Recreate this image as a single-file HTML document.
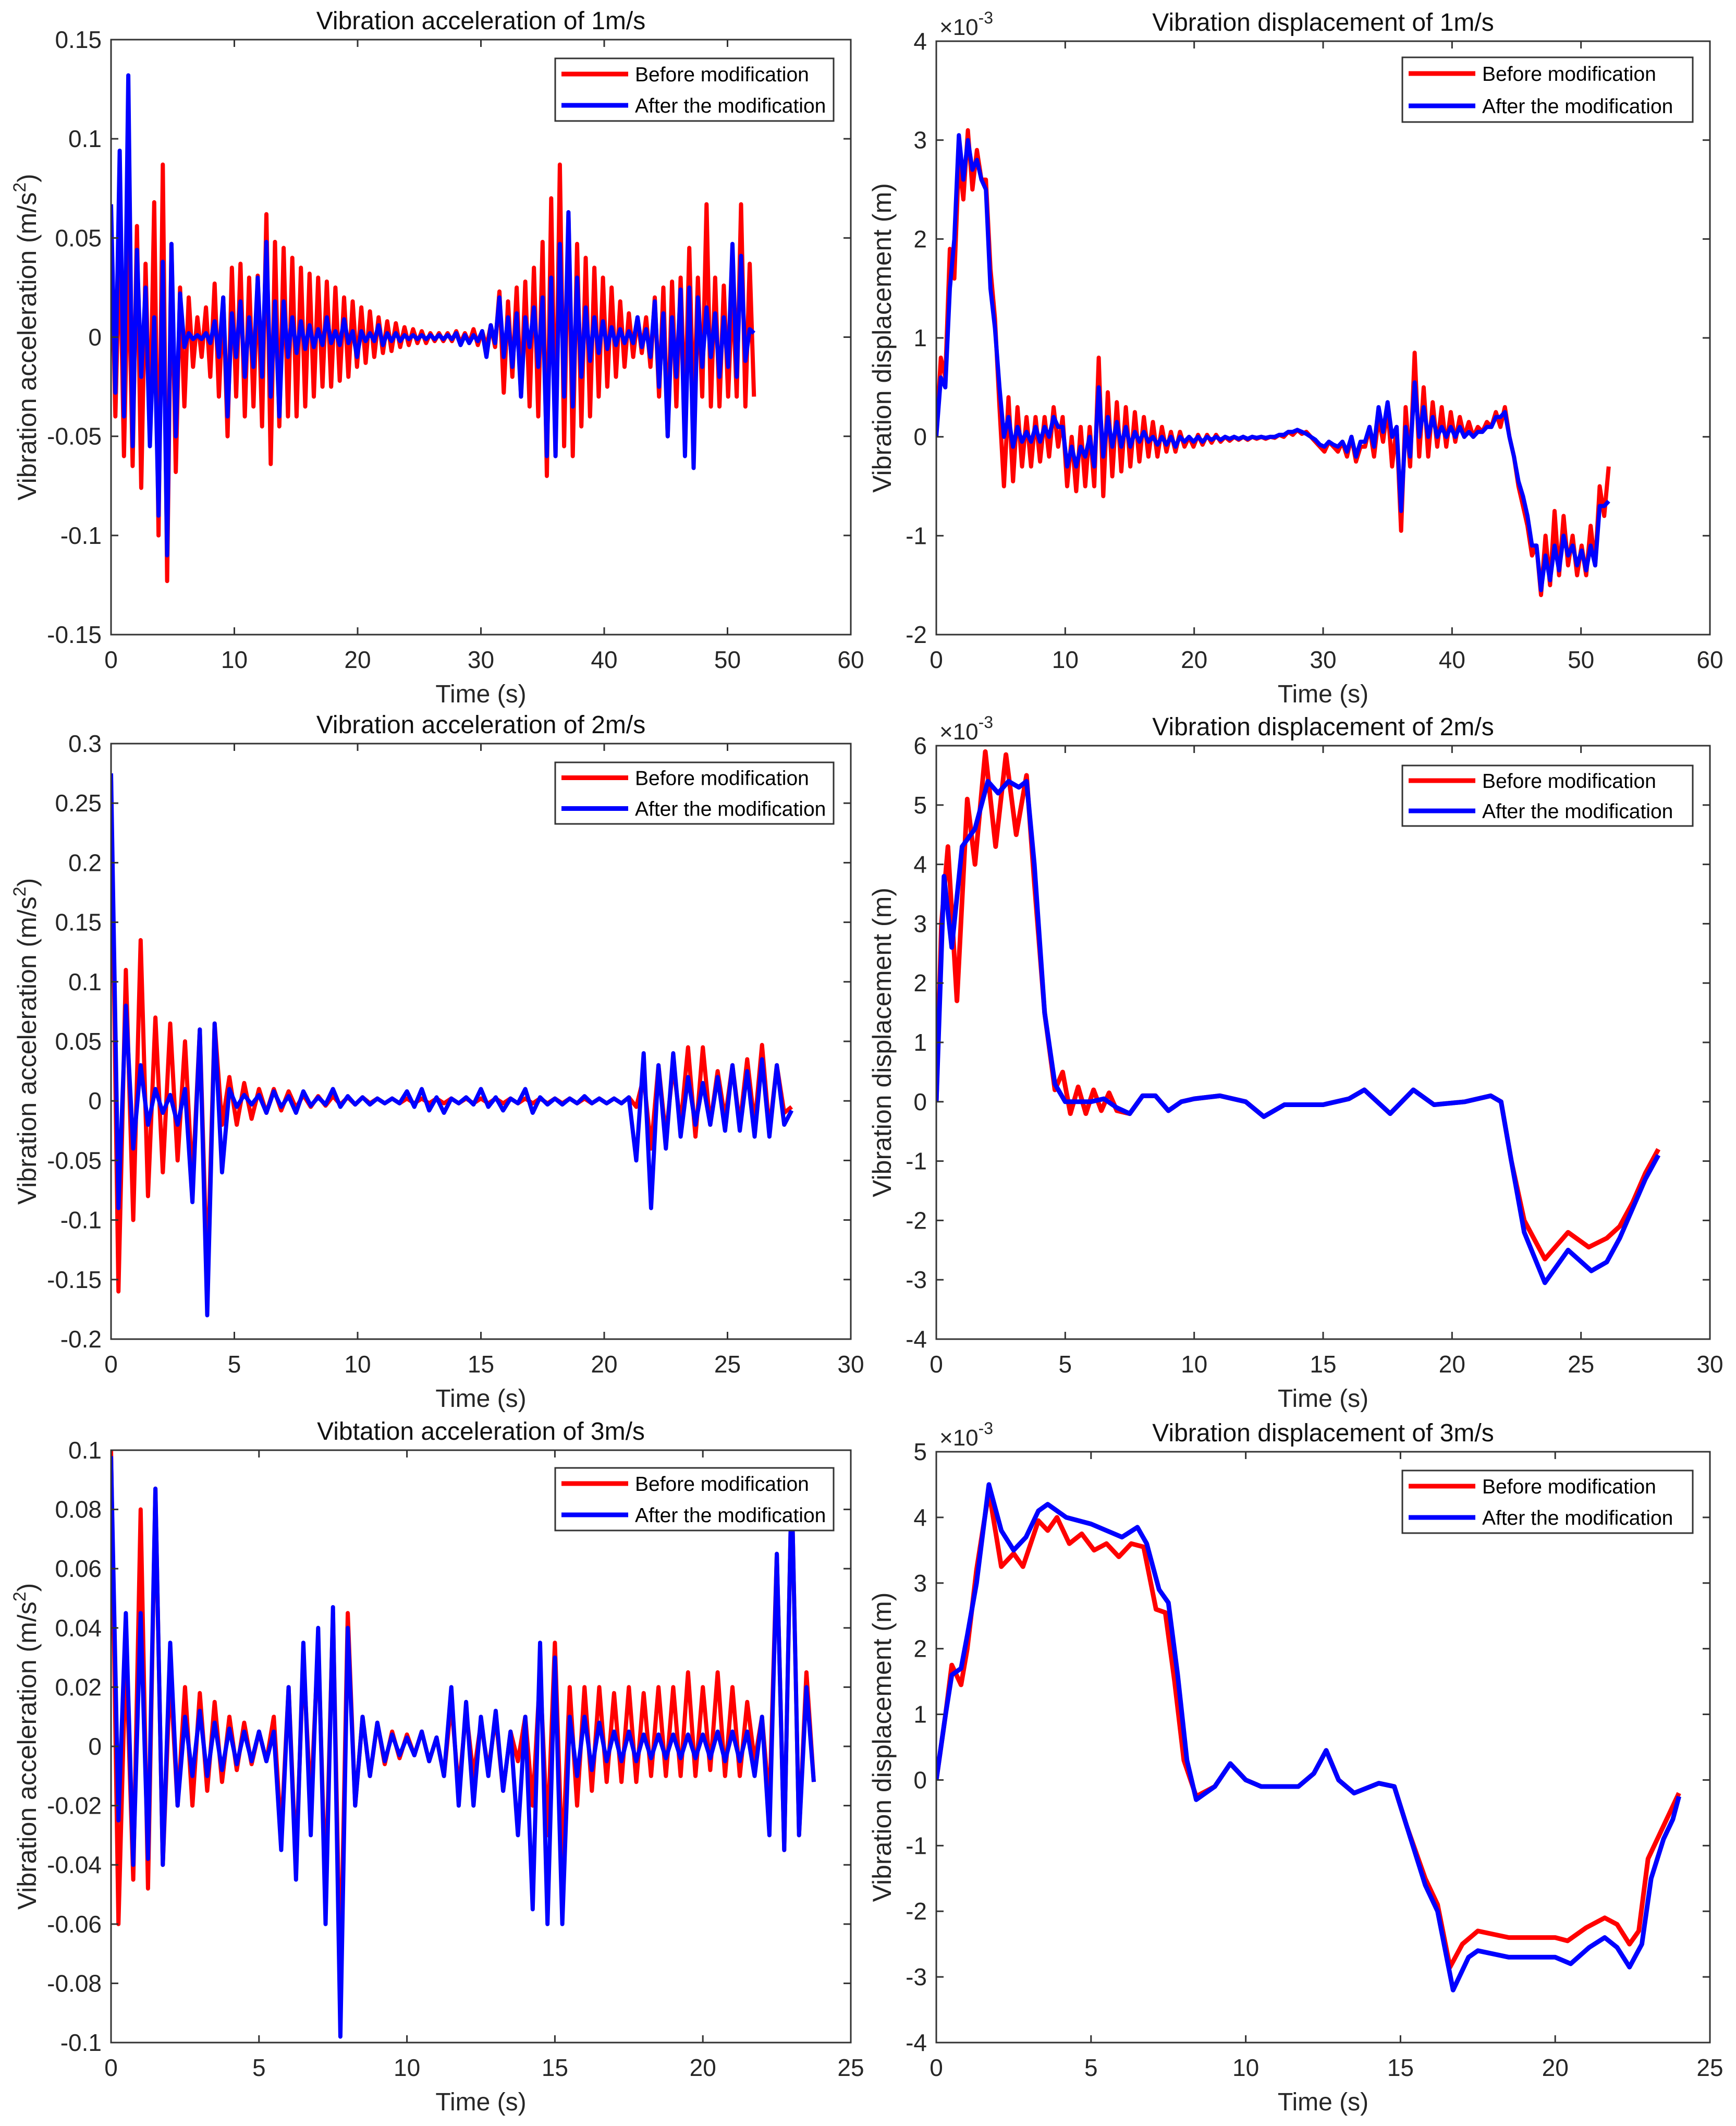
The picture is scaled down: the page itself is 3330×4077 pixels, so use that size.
<!DOCTYPE html>
<html><head><meta charset="utf-8"><style>
html,body{margin:0;padding:0;background:#fff}
svg{display:block;font-family:"Liberation Sans",Arial,sans-serif}
</style></head><body>
<svg id="fig" width="3330" height="4077" viewBox="0 0 3330 4077" xmlns="http://www.w3.org/2000/svg"></svg>
<script>
// ===== Data: acceleration 1 m/s (sampled every acc1Dt s) =====
const acc1Dt = 0.35;
const acc1Before = [0.06,-0.04,0.05,-0.06,0.045,-0.065,0.056,-0.076,0.037,-0.05,
0.068,-0.1,0.087,-0.123,0.047,-0.068,0.025,-0.035,0.02,-0.015,
0.01,-0.01,0.015,-0.02,0.027,-0.03,0.02,-0.05,0.035,-0.03,
0.037,-0.04,0.03,-0.035,0.031,-0.045,0.062,-0.064,0.048,-0.045,
0.045,-0.04,0.04,-0.04,0.035,-0.035,0.032,-0.03,0.03,-0.025,
0.028,-0.025,0.025,-0.022,0.02,-0.02,0.018,-0.015,0.015,-0.013,
0.013,-0.01,0.01,-0.008,0.008,-0.007,0.007,-0.005,0.005,-0.004,
0.004,-0.003,0.003,-0.003,0.002,-0.002,0.002,-0.002,0.002,-0.002,
0.003,-0.003,0.002,-0.003,0.004,-0.004,0.003,-0.005,0.006,-0.005,
0.023,-0.028,0.018,-0.02,0.025,-0.03,0.028,-0.035,0.035,-0.04,
0.048,-0.07,0.07,-0.06,0.087,-0.055,0.062,-0.06,0.047,-0.045,
0.04,-0.04,0.035,-0.03,0.03,-0.025,0.025,-0.02,0.018,-0.015,
0.012,-0.01,0.01,-0.008,0.01,-0.015,0.02,-0.03,0.025,-0.05,
0.028,-0.035,0.03,-0.04,0.045,-0.04,0.03,-0.03,0.067,-0.035,
0.03,-0.035,0.026,-0.03,0.025,-0.03,0.067,-0.035,0.037,-0.03];
const acc1After = [0.067,-0.028,0.094,-0.04,0.132,-0.055,0.044,-0.02,0.025,-0.055,
0.01,-0.09,0.038,-0.11,0.047,-0.05,0.022,-0.005,0.002,-0.001,
0.001,-0.001,0.002,-0.003,0.008,-0.01,0.02,-0.04,0.012,-0.01,
0.018,-0.02,0.01,-0.015,0.03,-0.02,0.048,-0.03,0.018,-0.04,
0.018,-0.01,0.01,-0.008,0.008,-0.006,0.006,-0.005,0.004,-0.004,
0.01,-0.003,0.003,-0.004,0.009,-0.003,0.003,-0.01,0.003,-0.002,
0.002,-0.002,0.006,-0.004,0.002,-0.002,0.002,-0.002,0.001,-0.001,
0.001,-0.001,0.001,-0.001,0.001,-0.001,0.001,-0.001,0.001,-0.001,
0.002,-0.004,0.001,-0.003,0.001,-0.002,0.003,-0.01,0.006,-0.003,
0.02,-0.01,0.01,-0.015,0.012,-0.03,0.01,-0.005,0.015,-0.015,
0.02,-0.06,0.03,-0.06,0.047,-0.03,0.063,-0.035,0.03,-0.02,
0.015,-0.012,0.01,-0.008,0.008,-0.006,0.005,-0.004,0.004,-0.003,
0.003,-0.003,0.01,-0.005,0.004,-0.01,0.018,-0.025,0.012,-0.05,
0.01,-0.02,0.024,-0.06,0.025,-0.066,0.02,-0.015,0.015,-0.01,
0.012,-0.02,0.01,-0.015,0.047,-0.02,0.041,-0.012,0.004,0.002];
// ===== displacement 1 m/s (x1e-3 m) =====
const disp1Dt = 0.35;
const disp1Before = [0,0.8,0.6,1.9,1.6,2.8,2.4,3.1,2.5,2.9,
2.6,2.6,1.7,1.2,0.3,-0.5,0.4,-0.45,0.3,-0.3,
0.2,-0.3,0.2,-0.25,0.2,-0.2,0.3,-0.1,0.2,-0.5,
0,-0.55,0.1,-0.5,0.1,-0.5,0.8,-0.6,0.45,-0.4,
0.35,-0.35,0.3,-0.3,0.25,-0.25,0.2,-0.2,0.15,-0.2,
0.1,-0.15,0.05,-0.15,0.05,-0.1,0,-0.1,0.02,-0.08,
0.02,-0.06,0.02,-0.05,0,-0.04,0,-0.03,0,-0.03,
0,-0.02,0,-0.02,0,-0.01,0.02,0,0.05,0.02,
0.07,0.03,0.05,0,-0.05,-0.1,-0.15,-0.05,-0.1,-0.15,
-0.05,-0.2,0,-0.25,-0.1,-0.1,0.1,-0.2,0.2,-0.05,
0.3,-0.3,0.1,-0.95,0.3,-0.3,0.85,-0.2,0.5,-0.2,
0.35,-0.1,0.3,-0.1,0.25,-0.05,0.2,0,0.15,0,
0.1,0.05,0.15,0.1,0.25,0.1,0.3,0,-0.2,-0.5,
-0.7,-0.9,-1.2,-1.1,-1.6,-1.0,-1.5,-0.75,-1.4,-0.8,
-1.3,-1.0,-1.4,-1.1,-1.4,-0.9,-1.3,-0.5,-0.8,-0.3];
const disp1After = [0,0.6,0.5,1.5,2.0,3.05,2.6,3.0,2.7,2.8,
2.6,2.5,1.5,1.1,0.5,0,0.2,-0.1,0.1,-0.05,
0.05,-0.05,0.1,-0.05,0.1,0,0.2,0.1,0.1,-0.3,
-0.1,-0.3,-0.1,-0.2,0,-0.3,0.5,-0.2,0.2,-0.1,
0.15,-0.1,0.1,-0.1,0.05,-0.05,0.05,-0.05,0,-0.08,
0,-0.08,0,-0.1,0,-0.05,0,-0.05,0,-0.05,
0,-0.03,0,-0.03,0,-0.02,0,-0.02,0,-0.02,
0,-0.01,0,-0.01,0,0,0.02,0.02,0.05,0.05,
0.07,0.05,0.03,0,-0.03,-0.08,-0.1,-0.05,-0.08,-0.1,
-0.05,-0.15,0,-0.2,-0.05,-0.05,0.1,-0.1,0.3,0.05,
0.35,0,0.1,-0.75,0.1,-0.2,0.55,0,0.3,0,
0.2,0,0.1,0,0.1,0,0.1,0,0.05,0,
0.05,0.05,0.1,0.1,0.2,0.2,0.25,0,-0.2,-0.45,
-0.6,-0.8,-1.1,-1.1,-1.55,-1.2,-1.45,-1.1,-1.35,-1.0,
-1.2,-1.1,-1.3,-1.15,-1.35,-1.1,-1.3,-0.7,-0.7,-0.65];
// ===== acceleration 2 m/s =====
const acc2Dt = 0.3;
const acc2Before = [0.27,-0.16,0.11,-0.1,0.135,-0.08,0.07,-0.06,0.065,-0.05,
0.05,-0.07,0.06,-0.15,0.065,-0.02,0.02,-0.02,0.015,-0.015,
0.01,-0.01,0.01,-0.008,0.008,-0.006,0.005,-0.005,0.004,-0.004,
0.004,-0.003,0.003,-0.003,0.003,-0.002,0.002,-0.002,0.002,-0.002,
0.002,-0.002,0.002,-0.002,0.002,-0.002,0.002,-0.002,0.002,-0.002,
0.002,-0.002,0.002,-0.002,0.002,-0.002,0.002,-0.002,0.002,-0.002,
0.002,-0.002,0.002,-0.002,0.002,-0.002,0.002,-0.002,0.002,-0.002,
0.003,-0.005,0.02,-0.04,0.03,-0.03,0.03,-0.02,0.045,-0.03,
0.045,-0.02,0.025,-0.015,0.03,-0.02,0.035,-0.02,0.047,-0.025,
0.03,-0.01,-0.005];
const acc2After = [0.275,-0.09,0.08,-0.04,0.03,-0.02,0.01,-0.01,0.005,-0.02,
0.01,-0.085,0.06,-0.18,0.065,-0.06,0.01,-0.005,0.005,-0.003,
0.005,-0.01,0.008,-0.005,0.004,-0.01,0.008,-0.004,0.003,-0.003,
0.01,-0.005,0.004,-0.003,0.003,-0.003,0.002,-0.002,0.002,-0.002,
0.008,-0.005,0.01,-0.008,0.003,-0.01,0.002,-0.002,0.003,-0.003,
0.01,-0.005,0.003,-0.008,0.002,-0.002,0.01,-0.01,0.003,-0.003,
0.002,-0.003,0.002,-0.002,0.004,-0.002,0.002,-0.002,0.002,-0.002,
0.003,-0.05,0.04,-0.09,0.03,-0.04,0.04,-0.03,0.02,-0.02,
0.015,-0.02,0.02,-0.025,0.03,-0.025,0.025,-0.03,0.035,-0.03,
0.03,-0.02,-0.008];
// ===== displacement 2 m/s (x1e-3 m) =====
const disp2BeforeT = [0,0.2,0.45,0.8,1.2,1.5,1.9,2.3,2.7,3.1,3.5,3.8,4.2,4.6,4.9,5.2,5.5,5.8,6.1,6.4,6.7,7.0,7.5,8,8.5,9,9.5,10,11,12,12.7,13.5,14,15,16,16.6,17.6,18.5,19.3,20.5,21.5,21.9,22.3,22.8,23.6,24.5,25.3,26,26.5,27,27.5,28];
const disp2BeforeV = [0,3.0,4.3,1.7,5.1,4.0,5.9,4.3,5.85,4.5,5.5,3.7,1.5,0.2,0.5,-0.2,0.25,-0.2,0.2,-0.15,0.15,-0.15,-0.2,0.1,0.1,-0.15,0,0.05,0.1,0,-0.25,-0.05,-0.05,-0.05,0.05,0.2,-0.2,0.2,-0.05,0,0.1,0,-1.0,-2.0,-2.65,-2.2,-2.45,-2.3,-2.1,-1.7,-1.2,-0.8];
const disp2AfterT = [0,0.3,0.6,1.0,1.5,2.0,2.4,2.8,3.2,3.5,3.8,4.2,4.6,5,6,6.5,7,7.5,8,8.5,9,9.5,10,11,12,12.7,13.5,15,16,16.6,17.6,18.5,19.3,20.5,21.5,21.9,22.3,22.8,23.6,24.5,25.4,26,26.5,27,27.5,28];
const disp2AfterV = [0,3.8,2.6,4.3,4.6,5.4,5.2,5.4,5.3,5.4,4,1.5,0.3,0,0,0.05,-0.1,-0.2,0.1,0.1,-0.15,0,0.05,0.1,0,-0.25,-0.05,-0.05,0.05,0.2,-0.2,0.2,-0.05,0,0.1,0,-1.0,-2.2,-3.05,-2.5,-2.85,-2.7,-2.3,-1.8,-1.3,-0.9];
// ===== acceleration 3 m/s =====
const acc3Dt = 0.25;
const acc3Before = [0.1,-0.06,0.033,-0.045,0.08,-0.048,0.087,-0.04,
0.025,-0.02,0.02,-0.02,0.018,-0.015,0.015,-0.012,
0.01,-0.008,0.008,-0.006,0.005,-0.005,0.01,-0.03,
0.02,-0.04,0.03,-0.02,0.035,-0.05,0.045,-0.08,
0.045,-0.02,0.01,-0.01,0.008,-0.006,0.005,-0.004,
0.004,-0.003,0.005,-0.005,0.003,-0.01,0.015,-0.015,
0.012,-0.01,0.008,-0.008,0.01,-0.015,0.005,-0.005,
0.01,-0.02,0.025,-0.03,0.035,-0.04,0.02,-0.02,
0.02,-0.015,0.02,-0.012,0.018,-0.012,0.02,-0.012,
0.018,-0.01,0.02,-0.01,0.02,-0.01,0.025,-0.01,
0.02,-0.008,0.025,-0.01,0.02,-0.01,0.015,-0.005,
0.01,-0.02,0.065,-0.035,0.09,-0.03,0.025,-0.012];
const acc3After = [0.098,-0.025,0.045,-0.04,0.045,-0.038,0.087,-0.04,
0.035,-0.02,0.01,-0.01,0.012,-0.01,0.008,-0.008,
0.006,-0.006,0.005,-0.005,0.005,-0.005,0.005,-0.035,
0.02,-0.045,0.035,-0.03,0.04,-0.06,0.047,-0.098,
0.04,-0.02,0.01,-0.01,0.008,-0.005,0.004,-0.003,
0.003,-0.003,0.005,-0.005,0.003,-0.01,0.02,-0.02,
0.015,-0.02,0.01,-0.01,0.012,-0.015,0.005,-0.03,
0.01,-0.055,0.035,-0.06,0.03,-0.06,0.01,-0.01,
0.01,-0.008,0.008,-0.005,0.005,-0.005,0.005,-0.005,
0.004,-0.004,0.004,-0.004,0.004,-0.004,0.004,-0.004,
0.004,-0.004,0.005,-0.005,0.005,-0.005,0.005,-0.01,
0.01,-0.03,0.065,-0.035,0.09,-0.03,0.02,-0.012];
// ===== displacement 3 m/s (x1e-3 m) =====
const disp3BeforeT = [0,0.3,0.5,0.8,1.0,1.3,1.7,2.1,2.5,2.8,3.3,3.6,3.9,4.3,4.7,5.1,5.5,5.9,6.3,6.7,7.1,7.4,7.7,8.0,8.4,9,9.5,10,10.5,11.7,12.2,12.6,13.0,13.5,14.3,14.8,15.2,15.8,16.2,16.6,17.0,17.5,18.5,20,20.4,21.0,21.6,22.0,22.4,22.7,23.0,23.4,23.7,24.0];
const disp3BeforeV = [0,1.0,1.75,1.45,2.0,3.2,4.4,3.25,3.45,3.25,3.95,3.8,4.0,3.6,3.75,3.5,3.6,3.4,3.6,3.55,2.6,2.55,1.5,0.3,-0.25,-0.1,0.25,0,-0.1,-0.1,0.1,0.45,0,-0.2,-0.05,-0.1,-0.7,-1.5,-1.9,-2.85,-2.5,-2.3,-2.4,-2.4,-2.45,-2.25,-2.1,-2.2,-2.5,-2.3,-1.2,-0.8,-0.5,-0.2];
const disp3AfterT = [0,0.3,0.5,0.8,1.0,1.3,1.7,2.1,2.5,2.9,3.3,3.6,4.2,5,5.5,6.0,6.5,6.8,7.2,7.5,7.8,8.1,8.4,9,9.5,10,10.5,11.7,12.2,12.6,13.0,13.5,14.3,14.8,15.2,15.8,16.2,16.7,17.2,17.5,18.5,20,20.5,21.1,21.6,22.0,22.4,22.8,23.1,23.5,23.8,24.0];
const disp3AfterV = [0,1.0,1.6,1.7,2.2,3.0,4.5,3.8,3.5,3.7,4.1,4.2,4.0,3.9,3.8,3.7,3.85,3.6,2.9,2.7,1.6,0.3,-0.3,-0.1,0.25,0,-0.1,-0.1,0.1,0.45,0,-0.2,-0.05,-0.1,-0.7,-1.6,-2.0,-3.2,-2.7,-2.6,-2.7,-2.7,-2.8,-2.55,-2.4,-2.55,-2.85,-2.5,-1.5,-0.9,-0.6,-0.25];
// ===== tick labels =====
const acc1YTicks = [0.15,0.1,0.05,0,-0.05,-0.1,-0.15];
const acc2YTicks = [0.3,0.25,0.2,0.15,0.1,0.05,0,-0.05,-0.1,-0.15,-0.2];
const acc3YTicks = [0.1,0.08,0.06,0.04,0.02,0,-0.02,-0.04,-0.06,-0.08,-0.1];
const disp1YTicks = [4,3,2,1,0,-1,-2];
const disp2YTicks = [6,5,4,3,2,1,0,-1,-2,-3,-4];
const disp3YTicks = [5,4,3,2,1,0,-1,-2,-3,-4];
const xTicks60 = [0,10,20,30,40,50,60];
const xTicks30 = [0,5,10,15,20,25,30];
const xTicks25 = [0,5,10,15,20,25];

const NS = 'http://www.w3.org/2000/svg';
const svg = document.getElementById('fig');
function mk(tag, attrs, parent){
  const e = document.createElementNS(NS, tag);
  for (const k in attrs) e.setAttribute(k, attrs[k]);
  (parent||svg).appendChild(e);
  return e;
}
function seq(dt, vals){ return vals.map((v,i)=>[i*dt, v]); }
function pairs(ts, vs){ return ts.map((t,i)=>[t, vs[i]]); }

const panels = [
 {id:'acc1', x0:213,x1:1632,y0:76,y1:1217, xmax:60, ymin:-0.15,ymax:0.15, yt:acc1YTicks, xt:xTicks60,
  title:'Vibration acceleration of 1m/s', ylab:'acc', ylx:52, red:seq(acc1Dt,acc1Before), blue:seq(acc1Dt,acc1After), lw:8, leg:[1065,112,1599,232]},
 {id:'disp1', x0:1796,x1:3280,y0:79,y1:1217, xmax:60, ymin:-2,ymax:4, yt:disp1YTicks, xt:xTicks60,
  title:'Vibration displacement of 1m/s', ylab:'Vibration displacement (m)', ylx:1692, exp:true, red:seq(disp1Dt,disp1Before), blue:seq(disp1Dt,disp1After), lw:8, leg:[2690,110,3247,234]},
 {id:'acc2', x0:213,x1:1632,y0:1426,y1:2568, xmax:30, ymin:-0.2,ymax:0.3, yt:acc2YTicks, xt:xTicks30,
  title:'Vibration acceleration of 2m/s', ylab:'acc', ylx:52, red:seq(acc2Dt,acc2Before), blue:seq(acc2Dt,acc2After), lw:8, leg:[1065,1462,1599,1580]},
 {id:'disp2', x0:1796,x1:3280,y0:1430,y1:2568, xmax:30, ymin:-4,ymax:6, yt:disp2YTicks, xt:xTicks30,
  title:'Vibration displacement of 2m/s', ylab:'Vibration displacement  (m)', ylx:1692, exp:true, red:pairs(disp2BeforeT,disp2BeforeV), blue:pairs(disp2AfterT,disp2AfterV), lw:9, leg:[2690,1468,3247,1584]},
 {id:'acc3', x0:213,x1:1632,y0:2781,y1:3917, xmax:25, ymin:-0.1,ymax:0.1, yt:acc3YTicks, xt:xTicks25,
  title:'Vibtation acceleration of 3m/s', ylab:'acc3', ylx:52, red:seq(acc3Dt,acc3Before), blue:seq(acc3Dt,acc3After), lw:8, leg:[1065,2815,1599,2935]},
 {id:'disp3', x0:1796,x1:3280,y0:2784,y1:3917, xmax:25, ymin:-4,ymax:5, yt:disp3YTicks, xt:xTicks25,
  title:'Vibration displacement of 3m/s', ylab:'Vibration displacement (m)', ylx:1692, exp:true, red:pairs(disp3BeforeT,disp3BeforeV), blue:pairs(disp3AfterT,disp3AfterV), lw:9, leg:[2690,2820,3247,2940]},
];

panels.forEach(p=>{
  const g = mk('g',{});
  
  
  const sx = v => p.x0 + (v/p.xmax)*(p.x1-p.x0);
  const sy = v => p.y1 - (v-p.ymin)/(p.ymax-p.ymin)*(p.y1-p.y0);
  const cp = mk('clipPath',{id:'clip-'+p.id}, g);
  mk('rect',{x:p.x0,y:p.y0,width:p.x1-p.x0,height:p.y1-p.y0}, cp);
  [['red','#ff0000','before-modification-line'],['blue','#0000ff','after-modification-line']].forEach(s=>{
    const d = p[s[0]].map((pt,i)=>(i?'L':'M')+sx(pt[0]).toFixed(1)+','+sy(pt[1]).toFixed(1)).join('');
    const path = mk('path',{d:d,fill:'none',stroke:s[1],'stroke-width':p.lw,'stroke-linejoin':'round','clip-path':'url(#clip-'+p.id+')'}, g);
    
    
  });
  const box = mk('rect',{x:p.x0,y:p.y0,width:p.x1-p.x0,height:p.y1-p.y0,fill:'none',stroke:'#333','stroke-width':3}, g);
  
  
  p.yt.forEach(v=>{
    const y = sy(v);
    mk('line',{x1:p.x0,y1:y,x2:p.x0+14,y2:y,stroke:'#333','stroke-width':3}, g);
    mk('line',{x1:p.x1,y1:y,x2:p.x1-14,y2:y,stroke:'#333','stroke-width':3}, g);
    const t = mk('text',{x:p.x0-18,y:y+16,'text-anchor':'end','font-size':46,fill:'#262626'}, g);
    t.textContent = String(v);
    
    
  });
  p.xt.forEach(v=>{
    const x = sx(v);
    mk('line',{x1:x,y1:p.y1,x2:x,y2:p.y1-14,stroke:'#333','stroke-width':3}, g);
    mk('line',{x1:x,y1:p.y0,x2:x,y2:p.y0+14,stroke:'#333','stroke-width':3}, g);
    const t = mk('text',{x:x,y:p.y1+64,'text-anchor':'middle','font-size':46,fill:'#262626'}, g);
    t.textContent = String(v);
    
    
  });
  const ti = mk('text',{x:(p.x0+p.x1)/2,y:p.y0-20,'text-anchor':'middle','font-size':48,fill:'#111'}, g);
  ti.textContent = p.title;
  
  
  const xl = mk('text',{x:(p.x0+p.x1)/2,y:p.y1+130,'text-anchor':'middle','font-size':48,fill:'#262626'}, g);
  xl.textContent = 'Time (s)';
  
  
  const yc = (p.y0+p.y1)/2, yx = p.ylx + 17;
  const yl = mk('text',{x:yx,y:yc,'text-anchor':'middle','font-size':50,fill:'#262626',transform:'rotate(-90 '+yx+' '+yc+')'}, g);
  
  
  if (p.ylab==='acc' || p.ylab==='acc3'){
    yl.textContent = p.ylab==='acc3' ? 'Vibration acceleration  (m/s' : 'Vibration acceleration (m/s';
    const sup = mk('tspan',{'font-size':34,dy:-20}, yl); sup.textContent='2';
    const cl = mk('tspan',{dy:20}, yl); cl.textContent=')';
  } else {
    yl.textContent = p.ylab;
  }
  if (p.exp){
    const ex = mk('text',{x:p.x0+6,y:p.y0-12,'font-size':44,fill:'#262626'}, g);
    ex.textContent = '×10';
    const s3 = mk('tspan',{'font-size':32,dy:-22}, ex); s3.textContent='-3';
    
    
  }
  const L = p.leg;
  const lg = mk('g',{}, g);
  
  
  mk('rect',{x:L[0],y:L[1],width:L[2]-L[0],height:L[3]-L[1],fill:'#fff',stroke:'#333','stroke-width':3}, lg);
  const rh = (L[3]-L[1])/2;
  [['#ff0000','Before modification'],['#0000ff','After the modification']].forEach((e,i)=>{
    const cy = L[1]+rh*(i+0.5);
    mk('line',{x1:L[0]+12,y1:cy,x2:L[0]+140,y2:cy,stroke:e[0],'stroke-width':9}, lg);
    const t = mk('text',{x:L[0]+153,y:cy+14,'font-size':39,fill:'#000'}, lg);
    t.textContent = e[1];
    
    
  });
});
</script>
</body></html>
